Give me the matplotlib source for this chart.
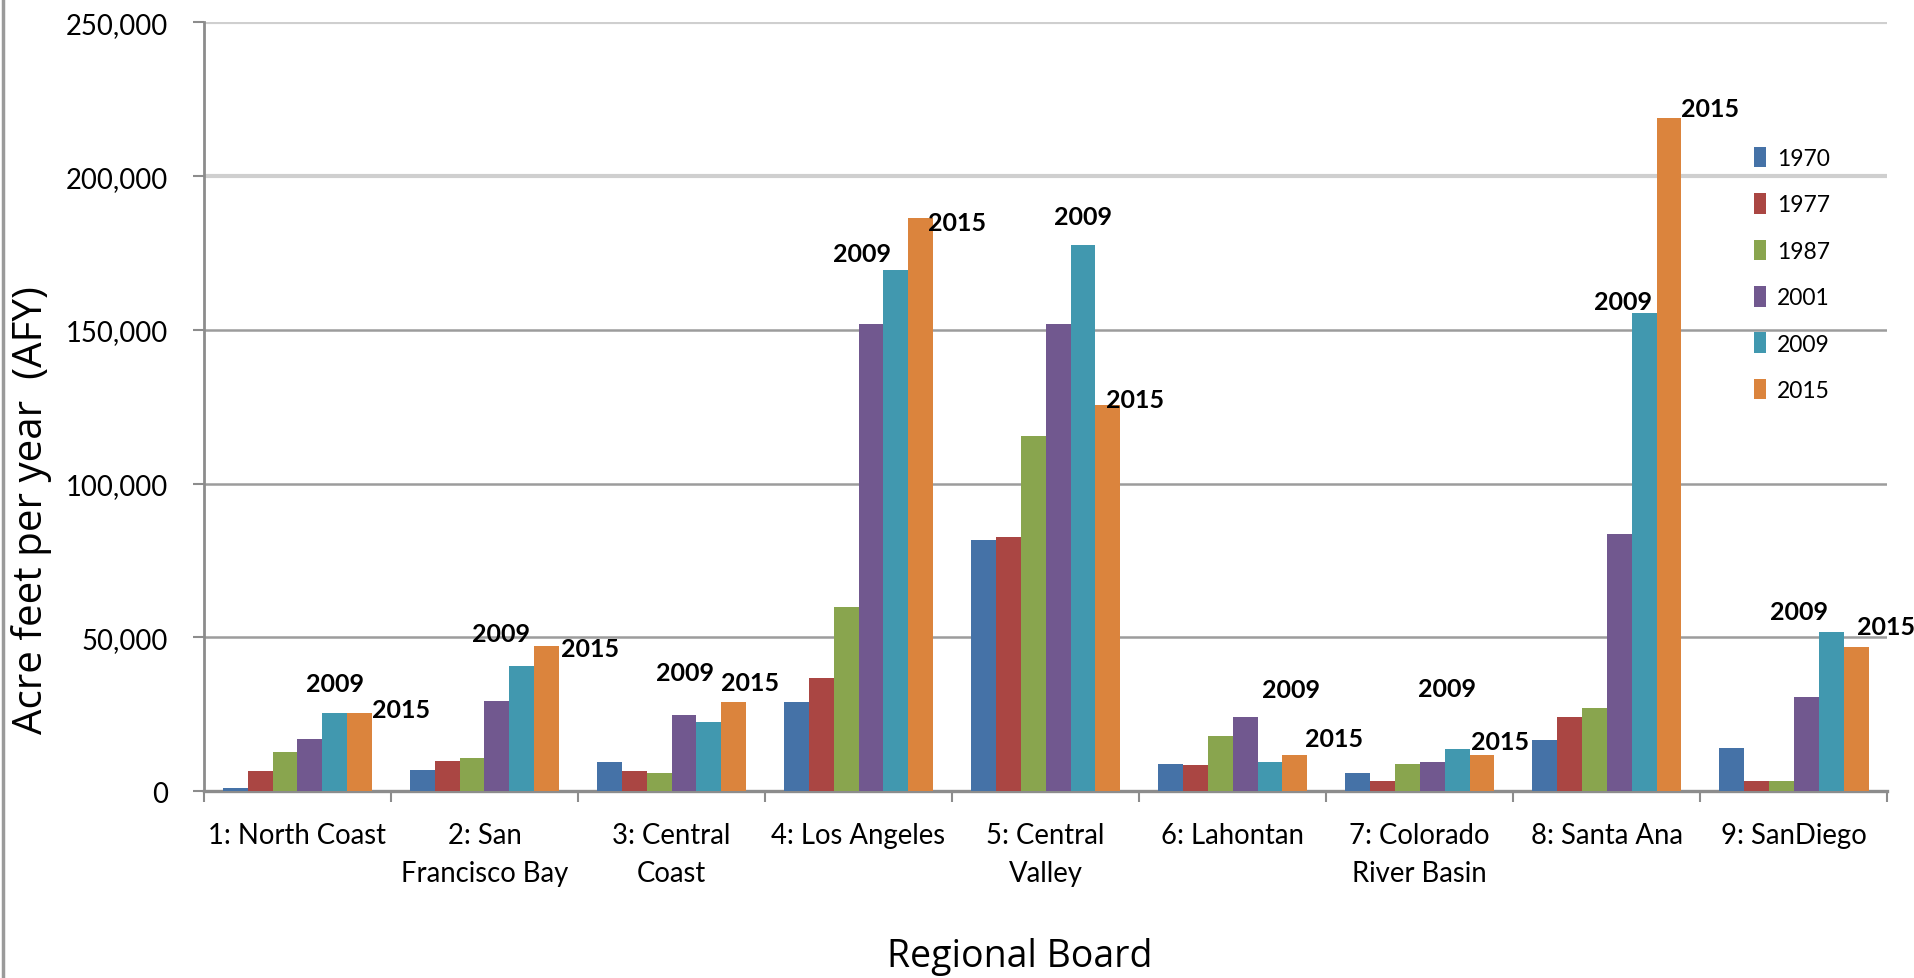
import matplotlib
matplotlib.use("Agg")
import matplotlib.pyplot as plt
import numpy as np
from matplotlib import font_manager
from matplotlib.ticker import FuncFormatter
from matplotlib.lines import Line2D

# data (acre feet per year)
regions = ["1: North Coast", "2: San\nFrancisco Bay", "3: Central\nCoast", "4: Los Angeles",
           "5: Central\nValley", "6: Lahontan", "7: Colorado\nRiver Basin", "8: Santa Ana",
           "9: SanDiego"]
years = ["1970", "1977", "1987", "2001", "2009", "2015"]
afy_1970 = [900, 6800, 9400, 28900, 81500, 8800, 6000, 16500, 14100]
afy_1977 = [6500, 9700, 6600, 36900, 82500, 8300, 3200, 24100, 3200]
afy_1987 = [12800, 10700, 5800, 60000, 115600, 17900, 8800, 27000, 3200]
afy_2001 = [17000, 29300, 24800, 152000, 152000, 24100, 9500, 83500, 30600]
afy_2009 = [25500, 40600, 22600, 169400, 177600, 9500, 13800, 155600, 51700]
afy_2015 = [25500, 47300, 28900, 186400, 125500, 11700, 11600, 219000, 46800]

series = [afy_1970, afy_1977, afy_1987, afy_2001, afy_2009, afy_2015]
colors = ["#4572A7", "#AA4643", "#89A54E", "#71588F", "#4198AF", "#DB843D"]

# placement of the "2009" / "2015" tags: height above bar top, sideways shift in bar widths
up_2009 = [9500, 10500, 16000, 5500, 9200, 23500, 19500, 3800, 6800]
dx_2009 = [0, -0.85, -0.95, -1.35, 0, 0.85, -0.4, -0.85, -1.3]
up_2015 = [900, -1000, 6500, -1500, 2000, 5300, 4600, 3000, 6800]
dx_2015 = [1.0, 1.05, 0.0, 0.8, 0.42, 0.92, 0.05, 1.0, 0.52]

installed = {f.name for f in font_manager.fontManager.ttflist}
if "Liberation Sans Narrow" in installed:
    num_font = ["Liberation Sans Narrow", "DejaVu Sans"]
    k = 1.0
else:
    num_font = ["Lato", "DejaVu Sans"]
    k = 0.9
label_font = ["Open Sans", "DejaVu Sans"]

fig = plt.figure(figsize=(19.15, 9.79), dpi=100)
ax = fig.add_axes([0.1065, 0.191, 0.879, 0.785])

n = len(years)
w = 0.8 / n
x = np.arange(len(regions))
for i, (vals, c, yr) in enumerate(zip(series, colors, years)):
    ax.bar(x - 0.4 + w * (i + 0.5), vals, width=w, color=c, label=yr, zorder=3)

for j in range(len(regions)):
    x09 = x[j] - 0.4 + w * 4.5 + dx_2009[j] * w
    x15 = x[j] - 0.4 + w * 5 + dx_2015[j] * w
    ax.text(x09, afy_2009[j] + up_2009[j], "2009", ha="center", va="center",
            fontsize=18, family=num_font, fontweight="bold", zorder=4)
    ax.text(x15, afy_2015[j] + up_2015[j], "2015", ha="left", va="center",
            fontsize=18, family=num_font, fontweight="bold", zorder=4)

ax.set_xlim(-0.5, len(regions) - 0.5)
ax.set_ylim(0, 250000)
ax.set_yticks(np.arange(0, 250001, 50000))
ax.yaxis.set_major_formatter(FuncFormatter(lambda v, p: f"{int(v):,}"))
ax.grid(axis="y", zorder=0)
# the upper grid lines look paler and wider in the reference
for gl, val in zip(ax.get_ygridlines(), ax.get_yticks()):
    if val >= 200000:
        gl.set_color("#cfcfcf")
        gl.set_linewidth(3.0)
    else:
        gl.set_color("#9c9c9c")
        gl.set_linewidth(1.8)
ax.set_xticks(x)
ax.set_xticklabels(regions, family=num_font, fontsize=22 * k, linespacing=1.6)
ax.set_xticks(np.arange(-0.5, len(regions)), minor=True)
ax.tick_params(axis="x", which="major", length=0, pad=22)
ax.tick_params(axis="x", which="minor", length=8, width=1.5, color="#8c8c8c")
ax.tick_params(axis="y", length=8, width=1.5, color="#8c8c8c", labelsize=22 * k, pad=18)
for lab in ax.get_yticklabels():
    lab.set_family(num_font)

for side in ("top", "right"):
    ax.spines[side].set_visible(False)
ax.spines["left"].set_color("#8c8c8c")
ax.spines["left"].set_linewidth(2.0)
ax.spines["bottom"].set_color("#8c8c8c")
ax.spines["bottom"].set_linewidth(2.4)

fig.text(32 / 1915, 1 - 510 / 979, "Acre feet per year  (AFY)", rotation=90,
         ha="center", va="center", fontsize=29, family=label_font)
fig.text(1020 / 1915, 1 - 957 / 979, "Regional Board", ha="center", va="center",
         fontsize=27, family=label_font)

leg = fig.legend(loc="upper left", bbox_to_anchor=(0.905, 0.870), frameon=False,
                 labelspacing=1.06, handlelength=0.55, handleheight=1.0,
                 handletextpad=0.45, prop={"family": num_font, "size": 16.5})

# thin gray frame edge on the left of the picture
fig.add_artist(Line2D([0.0015, 0.0015], [0, 1], transform=fig.transFigure,
                      color="#9a9a9a", linewidth=2.5))

fig.savefig("out.png", dpi=100, facecolor="white")
